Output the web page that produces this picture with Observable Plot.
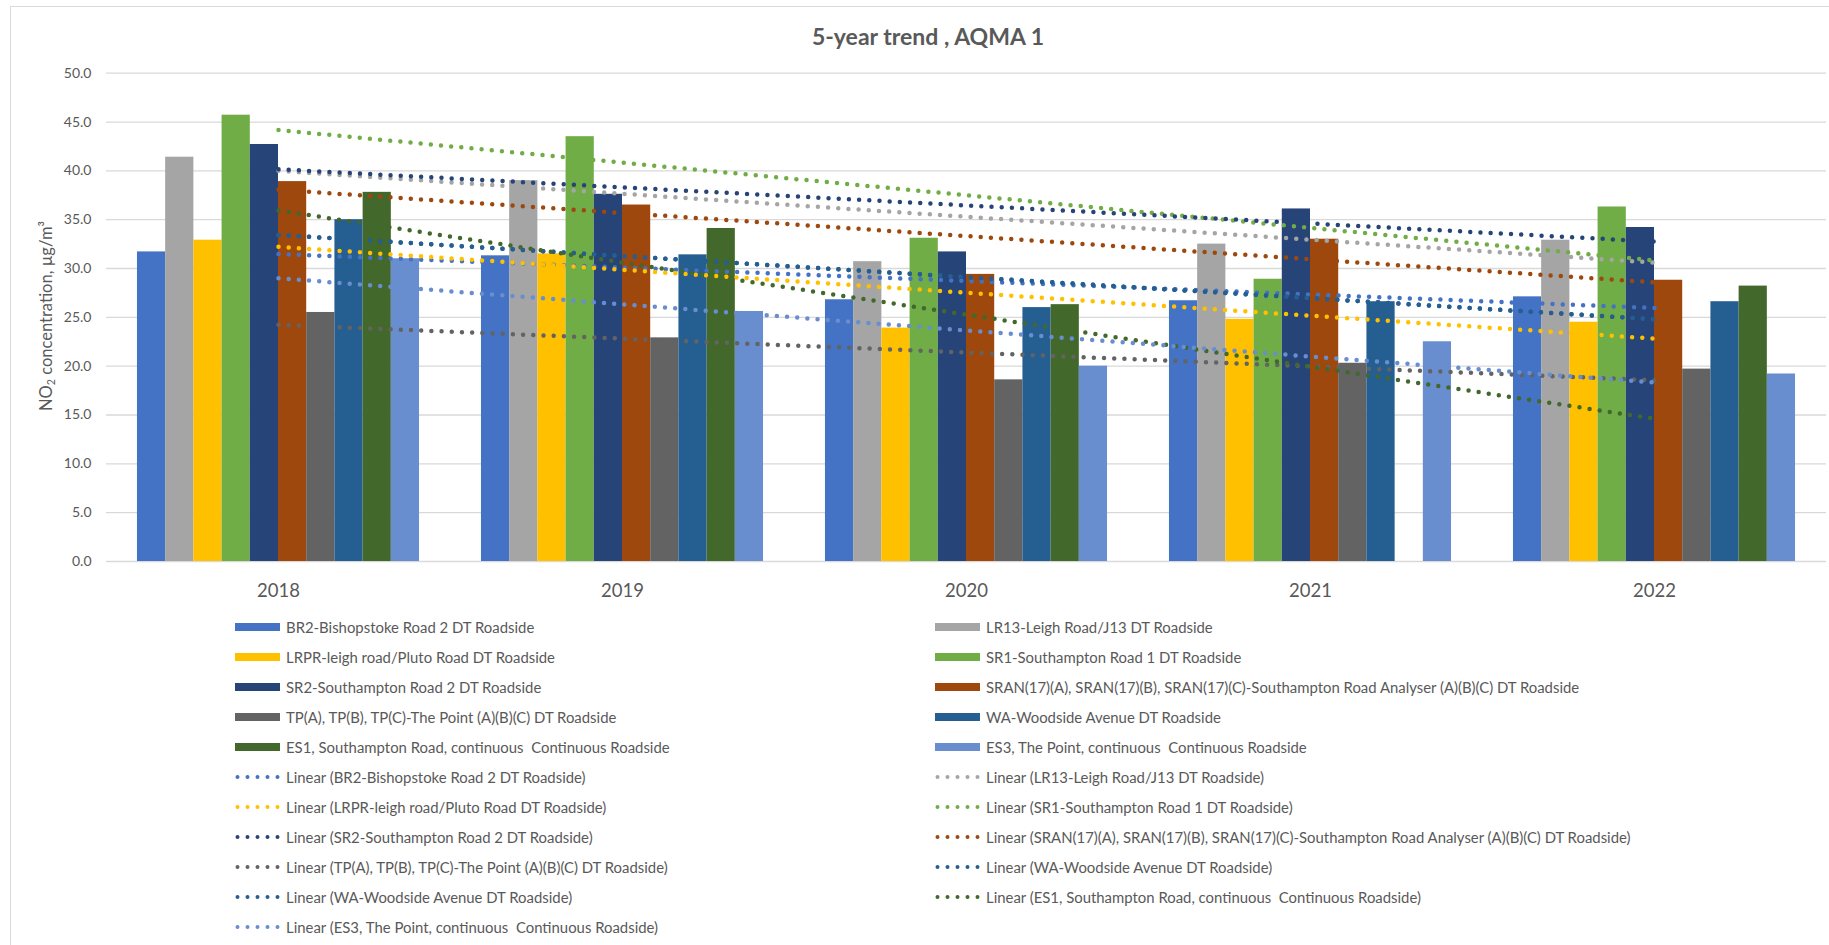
<!DOCTYPE html>
<html>
<head>
<meta charset="utf-8">
<script src="https://cdn.jsdelivr.net/npm/d3@7"></script>
<script src="https://cdn.jsdelivr.net/npm/@observablehq/plot@0.6"></script>
<style>
  html, body { margin: 0; padding: 0; background: #fff; }
  #chart { position: relative; width: 1829px; height: 945px; overflow: hidden; background: #fff;
           font-family: Lato, "Open Sans", sans-serif; color: #595959; }
  #frame { position: absolute; left: 10px; top: 6px; width: 1900px; height: 1000px;
           border: 1.5px solid #d9d9d9; box-sizing: border-box; }
  #title { position: absolute; left: 628px; width: 600px; top: 22px; text-align: center;
           font-weight: 700; font-size: 23px; line-height: 28px; color: #595959; }
  #ytitle { position: absolute; left: 46px; top: 316px; transform: translate(-50%, -50%) rotate(-90deg);
            white-space: nowrap; font-size: 16.5px; color: #595959; }
  #ytitle sub { font-size: 0.65em; vertical-align: -0.25em; line-height: 0; }
  #ytitle sup { font-size: 0.65em; vertical-align: 0.45em; line-height: 0; }
  #plot { position: absolute; left: 0; top: 0; }
  .item { position: absolute; height: 20px; display: flex; align-items: center; white-space: pre;
          font-size: 14.9px; color: #595959; }
  .item svg { flex: none; margin-right: 5px; }
</style>
</head>
<body>
<div id="chart">
  <div id="frame"></div>
  <div id="title">5-year trend , AQMA 1</div>
  <div id="plot"></div>
  <div id="ytitle">NO<sub>2</sub> concentration, µg/m³</div>
  <div id="legend"></div>
</div>
<script>
// Annual mean NO2 at each monitoring site, 2018–2022 (µg/m³)
const years = [2018, 2019, 2020, 2021, 2022];

const siteKeys = ["BR2", "LR13", "LRPR", "SR1", "SR2", "SRAN", "TP", "WA", "ES1", "ES3"];
const siteNames = [
  "BR2-Bishopstoke Road 2 DT Roadside",
  "LR13-Leigh Road/J13 DT Roadside",
  "LRPR-leigh road/Pluto Road DT Roadside",
  "SR1-Southampton Road 1 DT Roadside",
  "SR2-Southampton Road 2 DT Roadside",
  "SRAN(17)(A), SRAN(17)(B), SRAN(17)(C)-Southampton Road Analyser (A)(B)(C) DT Roadside",
  "TP(A), TP(B), TP(C)-The Point (A)(B)(C) DT Roadside",
  "WA-Woodside Avenue DT Roadside",
  "ES1, Southampton Road, continuous  Continuous Roadside",
  "ES3, The Point, continuous  Continuous Roadside"
];
const siteColors = ["#4472C4", "#A5A5A5", "#FFC000", "#70AD47", "#264478",
                    "#9E480E", "#636363", "#255E91", "#43682B", "#698ED0"];

const br2  = [31.7, 31.3, 26.8, 26.7, 27.1];
const lr13 = [41.4, 39.0, 30.7, 32.5, 32.9];
const lrpr = [32.9, 31.5, 23.9, 24.8, 24.5];
const sr1  = [45.7, 43.5, 33.1, 28.9, 36.3];
const sr2  = [42.7, 37.6, 31.7, 36.1, 34.2];
const sran = [38.9, 36.5, 29.4, 33.0, 28.8];
const tp   = [25.5, 22.9, 18.6, 20.3, 19.7];
const wa   = [35.0, 31.4, 26.0, 26.6, 26.6];
const es1  = [37.8, 34.1, 26.3, 0, 28.2];   // 2021 recorded as 0 (no bar), still counted in its trend
const es3  = [31.0, 25.6, 20.0, 22.5, 19.2];
const siteValues = [br2, lr13, lrpr, sr1, sr2, sran, tp, wa, es1, es3];

// Linear trendlines, in legend order (Woodside Avenue has two)
const trendKeys = ["BR2", "LR13", "LRPR", "SR1", "SR2", "SRAN", "TP", "WA", "WA", "ES1", "ES3"];

const yTicks = [0, 5, 10, 15, 20, 25, 30, 35, 40, 45, 50];

// ---- tidy rows built from the arrays above ----
const bars = siteKeys.flatMap((key, s) =>
  years.map((year, j) => ({key, s, year, value: siteValues[s][j]})));

const trends = trendKeys.flatMap((key, t) => {
  const s = siteKeys.indexOf(key);
  return years.map((year, j) => ({trend: t, key, year, value: siteValues[s][j]}));
});

// clustered columns: 10 bars share 82% of each year's band
const groupWidth = 0.82;
const barStep = groupWidth / siteKeys.length;
const left = d => d.year - groupWidth / 2 + d.s * barStep;

const W = 1829, H = 610;
const chart = Plot.plot({
  width: W,
  height: H,
  marginLeft: 106,
  marginRight: 3,
  marginTop: 72.7,
  marginBottom: 49,
  style: {fontFamily: 'Lato, "Open Sans", sans-serif', color: "#595959", background: "transparent"},
  x: {type: "linear", domain: [2017.5, 2022.5], axis: null},
  y: {domain: [0, 50], axis: null},
  color: {domain: siteKeys, range: siteColors},
  marks: [
    Plot.ruleY(yTicks, {stroke: "#d9d9d9", strokeWidth: 1.3}),
    Plot.axisY(yTicks, {tickSize: 0, tickPadding: 15, tickFormat: d => d.toFixed(1),
                        fontSize: 14, label: null}),
    Plot.axisX(years, {tickSize: 0, tickPadding: 22.5, tickFormat: d => String(d),
                       fontSize: 18.5, label: null}),
    Plot.rect(bars.filter(d => d.value > 0), {
      x1: left,
      x2: d => left(d) + barStep,
      y1: 0,
      y2: "value",
      fill: "key"
    }),
    Plot.linearRegressionY(trends, {
      x: "year", y: "value", z: "trend", stroke: "key", ci: 0,
      strokeWidth: 4.5, strokeDasharray: "0 10.2", strokeLinecap: "round"
    })
  ]
});
document.getElementById("plot").appendChild(chart);

// ---- legend: two columns, series first then trendlines ----
const legendItems = [
  ...siteKeys.map((key, s) => ({kind: "bar", color: siteColors[s], label: siteNames[s]})),
  ...trendKeys.map(key => {
    const s = siteKeys.indexOf(key);
    return {kind: "trend", color: siteColors[s], label: `Linear (${siteNames[s]})`};
  })
];
const legend = document.getElementById("legend");
const colX = [235, 935];
const rowY0 = 627, rowStep = 30;
legendItems.forEach((it, i) => {
  const row = Math.floor(i / 2), col = i % 2;
  const div = document.createElement("div");
  div.className = "item";
  div.style.left = colX[col] + "px";
  div.style.top = (rowY0 + row * rowStep - 10) + "px";
  const svg = d3.create("svg").attr("width", 46).attr("height", 12);
  if (it.kind === "bar") {
    svg.append("rect").attr("x", 0).attr("y", 2).attr("width", 45).attr("height", 8).attr("fill", it.color);
  } else {
    svg.append("line").attr("x1", 2.5).attr("x2", 44).attr("y1", 6).attr("y2", 6)
      .attr("stroke", it.color).attr("stroke-width", 4)
      .attr("stroke-linecap", "round").attr("stroke-dasharray", "0 10");
  }
  div.appendChild(svg.node());
  const span = document.createElement("span");
  span.textContent = it.label;
  div.appendChild(span);
  legend.appendChild(div);
});
</script>
</body>
</html>
